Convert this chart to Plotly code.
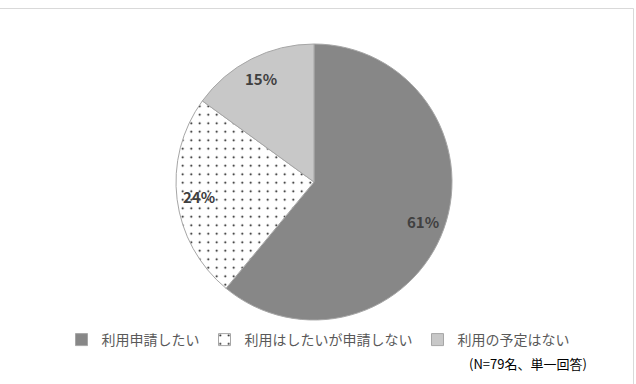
import math
import plotly.graph_objects as go

labels = ["利用申請したい", "利用はしたいが申請しない", "利用の予定はない"]
values = [61, 24, 15]
text_labels = ["61%", "24%", "15%"]
colors = ["#878787", "#ffffff", "#c8c8c8"]
patterns = ["", ".", ""]
note = "(N=79名、単一回答)"

W, H = 636, 384
cx, cy = 314, 182
r = 138
label_frac = 0.84

fig = go.Figure()
fig.add_trace(go.Pie(
    labels=labels,
    values=values,
    textinfo="none",
    sort=False,
    direction="clockwise",
    rotation=0,
    marker=dict(
        colors=colors,
        line=dict(color="#a6a6a6", width=1),
        pattern=dict(shape=patterns, fgcolor="#000000", bgcolor=colors,
                     size=8.5, solidity=0.04, fillmode="replace"),
    ),
    domain=dict(x=[(cx - r) / W, (cx + r) / W], y=[(H - cy - r) / H, (H - cy + r) / H]),
    hoverinfo="label+percent",
))

# slice labels at mid-angle of each slice (clockwise from 12 o'clock)
annotations = []
total = sum(values)
cum = 0
for v, t in zip(values, text_labels):
    mid = (cum + v / 2) / total * 2 * math.pi
    cum += v
    px = cx + label_frac * r * math.sin(mid)
    py = cy - label_frac * r * math.cos(mid)
    annotations.append(dict(text="<b>" + t + "</b>", xref="paper", yref="paper",
                            x=px / W, y=(H - py) / H, xanchor="center", yanchor="middle",
                            showarrow=False,
                            font=dict(family="Noto Sans CJK JP", size=15, color="#404040")))

annotations.append(dict(text=note, xref="paper", yref="paper", x=589 / W, y=(H - 363) / H,
                        xanchor="right", yanchor="middle", showarrow=False,
                        font=dict(size=13, color="#000000")))

fig.update_layout(
    width=W, height=H,
    margin=dict(l=0, r=0, t=0, b=0),
    paper_bgcolor="white",
    font=dict(family="Noto Sans CJK JP", size=14, color="#595959"),
    showlegend=True,
    legend=dict(orientation="h", x=0.5, xanchor="center", y=(H - 340) / H, yanchor="middle",
                font=dict(size=14, color="#595959"), itemwidth=30, traceorder="normal"),
    shapes=[dict(type="rect", xref="paper", yref="paper", x0=-0.01, x1=633.5 / W,
                 y0=-0.01, y1=(H - 8.5) / H, line=dict(color="#d9d9d9", width=1),
                 fillcolor="rgba(0,0,0,0)", layer="below")],
    annotations=annotations,
)

fig.write_html("out.html")
